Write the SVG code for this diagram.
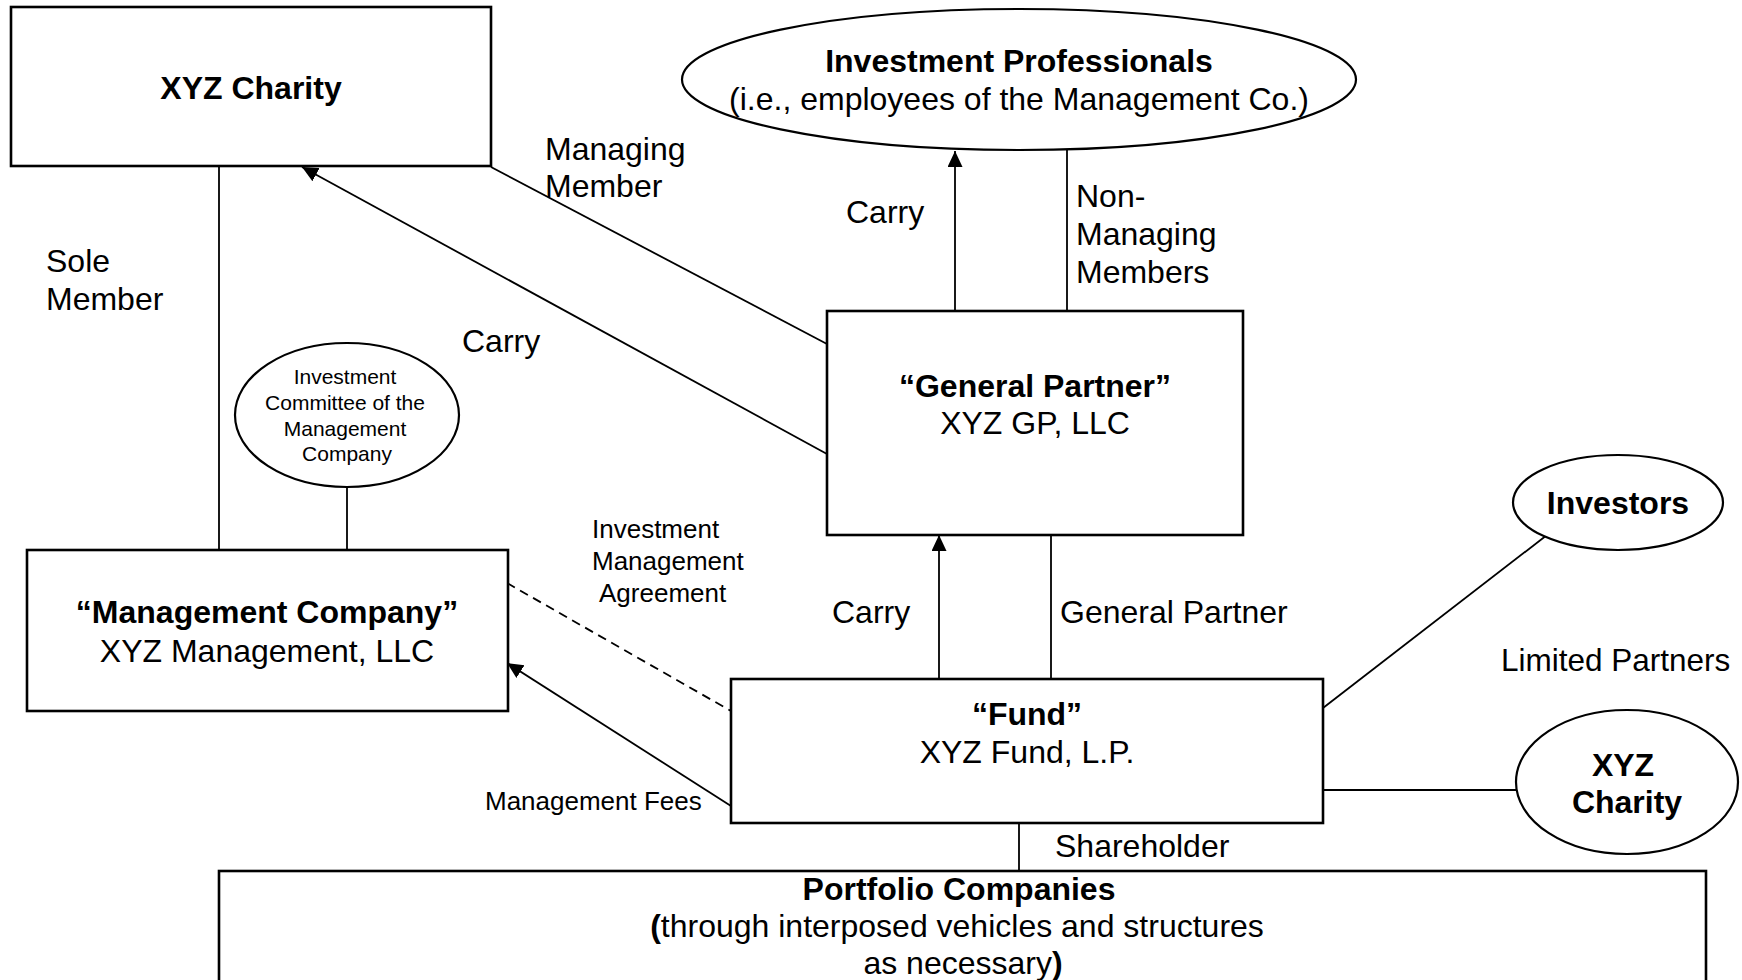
<svg xmlns="http://www.w3.org/2000/svg" width="1742" height="980" viewBox="0 0 1742 980">
<style>
.box{fill:#fff;stroke:#000;stroke-width:2.6}
.ell{fill:#fff;stroke:#000;stroke-width:2.2}
.ln{stroke:#000;stroke-width:1.8;fill:none}
.dash{stroke-dasharray:9 6}
text{font-family:"Liberation Sans",Arial,Helvetica,sans-serif;font-size:32px;fill:#000}
.b{font-weight:bold}
.c{text-anchor:middle}
.s{font-size:26px}
.xs{font-size:21px}
</style>
<defs>
<marker id="arr" markerUnits="userSpaceOnUse" markerWidth="17" markerHeight="16" refX="16" refY="7.5" orient="auto">
<path d="M0,0 L16,7.5 L0,15 z" fill="#000"/>
</marker>
</defs>
<rect width="1742" height="980" fill="#fff"/>

<g id="connectors">
<line class="ln" x1="491" y1="167" x2="827" y2="344"/>
<line class="ln" x1="827" y1="454" x2="302" y2="167" marker-end="url(#arr)"/>
<line class="ln" x1="219" y1="167" x2="219" y2="550"/>
<line class="ln" x1="347" y1="487" x2="347" y2="550"/>
<line class="ln dash" x1="507" y1="583" x2="731" y2="711"/>
<line class="ln" x1="731" y1="806" x2="507" y2="663" marker-end="url(#arr)"/>
<line class="ln" x1="939" y1="679" x2="939" y2="535" marker-end="url(#arr)"/>
<line class="ln" x1="1051" y1="535" x2="1051" y2="679"/>
<line class="ln" x1="955" y1="311" x2="955" y2="151" marker-end="url(#arr)"/>
<line class="ln" x1="1067" y1="150" x2="1067" y2="311"/>
<line class="ln" x1="1547" y1="535" x2="1323" y2="708"/>
<line class="ln" x1="1323" y1="790" x2="1516" y2="790"/>
<line class="ln" x1="1019" y1="823" x2="1019" y2="871"/>
<text x="545" y="160">Managing</text>
<text x="545" y="197">Member</text>
<text x="46" y="272">Sole</text>
<text x="46" y="310">Member</text>
<text x="462" y="352">Carry</text>
<text x="846" y="223">Carry</text>
<text x="1076" y="207">Non-</text>
<text x="1076" y="245">Managing</text>
<text x="1076" y="283">Members</text>
<text class="s" x="592" y="538">Investment</text>
<text class="s" x="592" y="570">Management</text>
<text class="s" x="599" y="602">Agreement</text>
<text class="s" x="485" y="810">Management Fees</text>
<text x="832" y="623">Carry</text>
<text x="1060" y="623">General Partner</text>
<text x="1501" y="671" style="font-size:31.5px">Limited Partners</text>
<text x="1055" y="857">Shareholder</text>
</g>

<g id="xyz-charity">
<rect class="box" x="11" y="7" width="480" height="159"/>
<text class="b c" x="251" y="99">XYZ Charity</text>
</g>

<g id="investment-professionals">
<ellipse class="ell" cx="1019" cy="79.5" rx="337" ry="70.5"/>
<text class="b c" x="1019" y="72">Investment Professionals</text>
<text class="c" x="1019" y="110">(i.e., employees of the Management Co.)</text>
</g>

<g id="investment-committee">
<ellipse class="ell" cx="347" cy="415" rx="112" ry="72"/>
<text class="xs c" x="345" y="384">Investment</text>
<text class="xs c" x="345" y="410">Committee of the</text>
<text class="xs c" x="345" y="436">Management</text>
<text class="xs c" x="347" y="461">Company</text>
</g>

<g id="general-partner">
<rect class="box" x="827" y="311" width="416" height="224"/>
<text class="b c" x="1035" y="397">“General Partner”</text>
<text class="c" x="1035" y="434">XYZ GP, LLC</text>
</g>

<g id="management-company">
<rect class="box" x="27" y="550" width="481" height="161"/>
<text class="b c" x="267" y="623">“Management Company”</text>
<text class="c" x="267" y="662">XYZ Management, LLC</text>
</g>

<g id="fund">
<rect class="box" x="731" y="679" width="592" height="144"/>
<text class="b c" x="1027" y="725">“Fund”</text>
<text class="c" x="1027" y="763">XYZ Fund, L.P.</text>
</g>

<g id="investors">
<ellipse class="ell" cx="1618" cy="502.5" rx="105" ry="47.5"/>
<text class="b c" x="1618" y="514">Investors</text>
</g>

<g id="xyz-charity-lp">
<ellipse class="ell" cx="1627" cy="782" rx="111" ry="72"/>
<text class="b c" x="1623" y="776">XYZ</text>
<text class="b c" x="1627" y="813">Charity</text>
</g>

<g id="portfolio-companies">
<rect class="box" x="219" y="871" width="1487" height="140"/>
<text class="b c" x="959" y="900">Portfolio Companies</text>
<text class="c" x="957" y="937"><tspan class="b">(</tspan>through interposed vehicles and structures</text>
<text class="c" x="963" y="974">as necessary<tspan class="b">)</tspan></text>
</g>
</svg>
